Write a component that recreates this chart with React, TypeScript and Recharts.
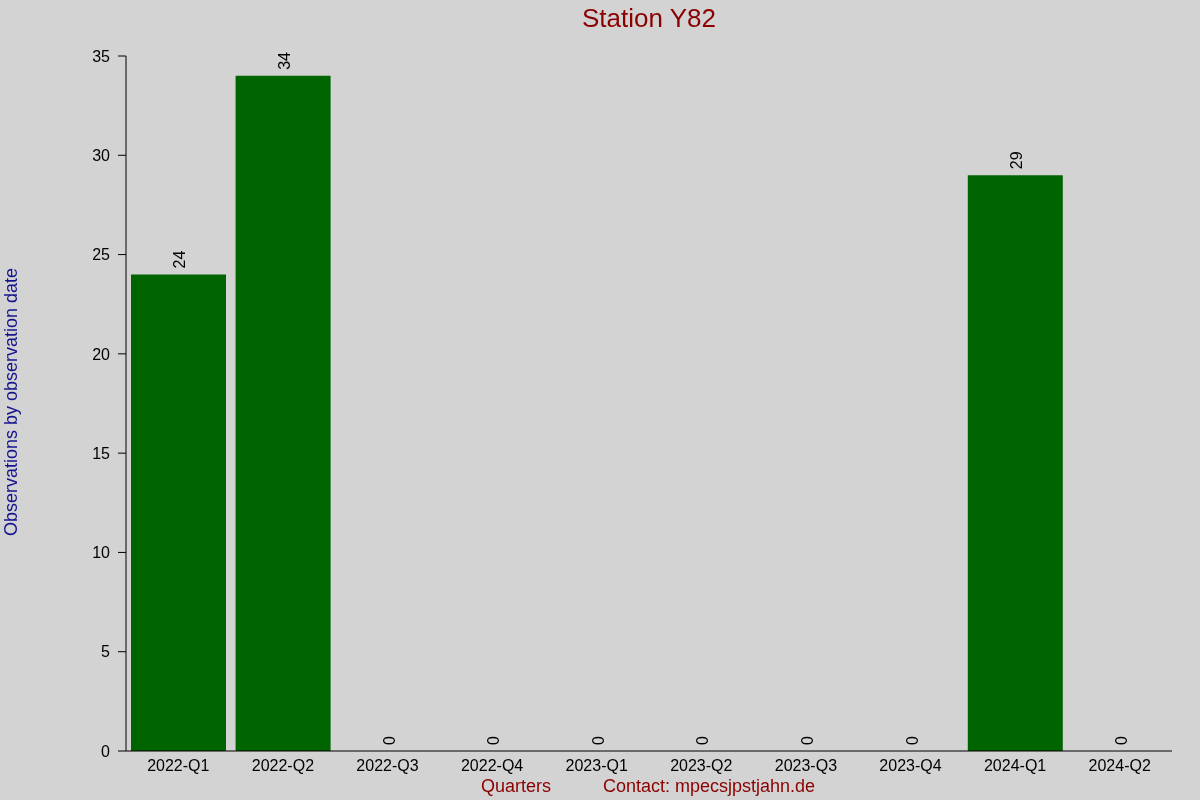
import React from "react";
import { ComposedChart, Bar, Line, XAxis, YAxis, LabelList } from "recharts";

const quarters = [
  "2022-Q1",
  "2022-Q2",
  "2022-Q3",
  "2022-Q4",
  "2023-Q1",
  "2023-Q2",
  "2023-Q3",
  "2023-Q4",
  "2024-Q1",
  "2024-Q2",
];
const observations = [24, 34, 0, 0, 0, 0, 0, 0, 29, 0];
const yTicks = [0, 5, 10, 15, 20, 25, 30, 35];

const FONT = '"Liberation Sans", Arial, Helvetica, sans-serif';
const BG = "#D3D3D3";
const BAR_GREEN = "#006400";
const DARK_RED = "#8B0000";
const DARK_BLUE = "#14148f";

const data = quarters.map((q, i) => ({ name: q, value: observations[i] }));

// rotated value label sitting just above each bar top (incl. zero bars)
const RotatedLabel = (props: any) => {
  const { x, y, value } = props;
  const lx = x + 1.5;
  const top = y - 6;
  return (
    <text
      x={lx}
      y={top}
      transform={`rotate(-90, ${lx}, ${top})`}
      textAnchor="start"
      dominantBaseline="central"
      fontSize={16}
      fontFamily={FONT}
      fill="#000"
    >
      {value}
    </text>
  );
};

// tiny dot marks on the top edge at each category centre
const TopMark = (props: any) => {
  const { x, y } = props;
  return <rect x={Math.round(x)} y={Math.round(y) - 1} width={1} height={1} fill="#000" />;
};

export default function App() {
  return (
    <div
      style={{
        position: "fixed",
        left: 0,
        top: 0,
        width: 1200,
        height: 800,
        background: BG,
        fontFamily: FONT,
      }}
    >
      <div
        style={{
          position: "absolute",
          left: 0,
          top: 1,
          width: 1298,
          textAlign: "center",
          fontSize: 26,
          lineHeight: "34px",
          color: DARK_RED,
        }}
      >
        Station Y82
      </div>

      <ComposedChart
        width={1200}
        height={800}
        data={data}
        margin={{ top: 56, right: 28, left: 0, bottom: 0 }}
      >
        <XAxis
          dataKey="name"
          height={49}
          stroke="#000"
          axisLine={{ stroke: "#000" }}
          tickLine={false}
          tickSize={0}
          tickMargin={9}
          tick={{ fill: "#000", fontSize: 16, fontFamily: FONT }}
          interval={0}
        />
        <XAxis
          xAxisId="top"
          dataKey="name"
          orientation="top"
          height={0}
          axisLine={false}
          tickLine={false}
          tickSize={0}
          tickMargin={0}
          tick={<TopMark />}
          interval={0}
        />
        <YAxis
          width={126}
          domain={[0, 35]}
          ticks={yTicks}
          interval={0}
          stroke="#000"
          axisLine={{ stroke: "#000" }}
          tickLine={{ stroke: "#000" }}
          tickSize={8}
          tickMargin={8}
          tick={{ fill: "#000", fontSize: 16, fontFamily: FONT }}
        />
        <Bar dataKey="value" fill={BAR_GREEN} barSize={95} isAnimationActive={false} />
        <Line
          dataKey="value"
          stroke="none"
          dot={false}
          activeDot={false}
          isAnimationActive={false}
        >
          <LabelList dataKey="value" content={<RotatedLabel />} />
        </Line>
      </ComposedChart>

      <div
        style={{
          position: "absolute",
          left: 11,
          top: 402,
          transform: "translate(-50%, -50%) rotate(-90deg)",
          whiteSpace: "nowrap",
          fontSize: 18,
          color: DARK_BLUE,
        }}
      >
        Observations by observation date
      </div>

      <div
        style={{
          position: "absolute",
          left: 481,
          top: 775,
          fontSize: 18,
          lineHeight: "22px",
          color: DARK_RED,
          whiteSpace: "nowrap",
        }}
      >
        Quarters
      </div>
      <div
        style={{
          position: "absolute",
          left: 603,
          top: 775,
          fontSize: 18,
          lineHeight: "22px",
          color: DARK_RED,
          whiteSpace: "nowrap",
        }}
      >
        Contact: mpecsjpstjahn.de
      </div>
    </div>
  );
}
